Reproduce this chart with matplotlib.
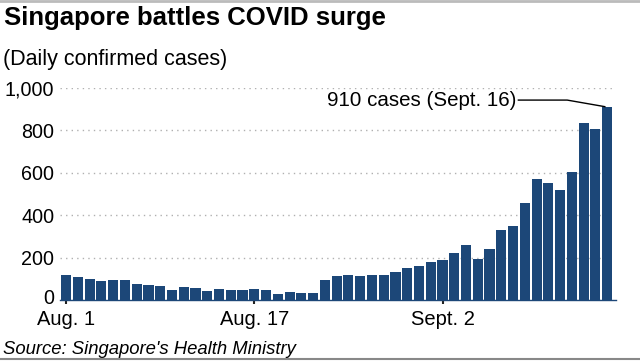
import numpy as np
import matplotlib.pyplot as plt
import matplotlib.transforms as mtransforms
from matplotlib.lines import Line2D

plt.switch_backend('Agg')
plt.rcParams['font.family'] = ['Liberation Sans', 'DejaVu Sans']

# Daily confirmed cases, Aug 1 - Sept 16
aug_cases = [118, 110, 99, 90, 93, 93, 77, 72, 67, 49, 60, 55, 44, 53, 49, 48,
             52, 48, 27, 36, 31, 31, 93, 111, 116, 111, 119, 117, 131, 152, 159]
sep_cases = [179, 191, 220, 260, 192, 241, 331, 350, 457, 573, 554, 520, 606, 836, 806, 910]
cases = aug_cases + sep_cases

tick_pos = [0, 16, 32]
tick_labels = ['Aug. 1', 'Aug. 17', 'Sept. 2']
y_ticks = [0, 200, 400, 600, 800, 1000]
y_labels = ['0', '200', '400', '600', '800', '1,000']

bar_color = '#1c4778'

fig = plt.figure(figsize=(6.4, 3.61), dpi=100)
ax = fig.add_axes([60 / 640, 1 - 300 / 361, 556 / 640, 212 / 361])

x = np.arange(len(cases))
ax.bar(x, cases, width=0.86, color=bar_color, zorder=3)

ax.set_xlim(-0.52, 46.75)
ax.set_ylim(0, 1000)
ax.set_yticks(y_ticks)
ax.set_yticklabels(y_labels, fontsize=14.2)
ax.set_xticks(tick_pos)
ax.set_xticklabels(tick_labels, fontsize=14.5)
ax.tick_params(axis='y', length=0, pad=4)
ax.tick_params(axis='x', length=3, width=1.5, color='#222222', pad=4)

# lift the "0" label a little so it clears "Aug. 1"
zero_lbl = ax.get_yticklabels()[0]
zero_lbl.set_transform(zero_lbl.get_transform() +
                       mtransforms.ScaledTranslation(0, 3 / 100, fig.dpi_scale_trans))

ax.yaxis.grid(True, linestyle=(0, (1, 3)), color='#b0b0b0', linewidth=1, zorder=0)
for s in ['top', 'right', 'left']:
    ax.spines[s].set_visible(False)
ax.spines['bottom'].set_color(bar_color)
ax.spines['bottom'].set_linewidth(1)

# annotation for last bar, with a bent leader line
last = len(cases) - 1
ax.text(38.3, 943, '910 cases (Sept. 16)', ha='right', va='center', fontsize=14.8)
ax.plot([38.45, 42.6, last - 0.2], [943, 943, cases[last] + 2], color='black',
        lw=1, zorder=4, clip_on=False)

fig.text(4 / 640, 1 - 18 / 361, 'Singapore battles COVID surge', fontsize=18.5,
         fontweight='bold', ha='left', va='center')
fig.text(3 / 640, 1 - 60 / 361, '(Daily confirmed cases)', fontsize=15.5,
         ha='left', va='center')
fig.text(3 / 640, 1 - 349 / 361, "Source: Singapore's Health Ministry", fontsize=13.3,
         style='italic', ha='left', va='center')

# thin frame lines at top and bottom
fig.add_artist(Line2D([0, 1], [1 - 1 / 361, 1 - 1 / 361], color='#bbbbbb', lw=2))
fig.add_artist(Line2D([0, 1], [1 - 359 / 361, 1 - 359 / 361], color='#888888', lw=1.5))

fig.savefig('out.png', dpi=100)
